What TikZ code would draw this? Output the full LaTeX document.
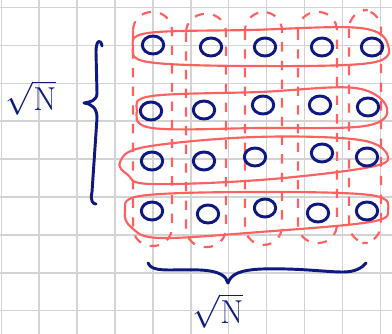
\documentclass[tikz,border=0pt]{standalone}
\usepackage{tikz}
\usetikzlibrary{shapes.geometric}
\definecolor{inkblue}{HTML}{0D1880}
\definecolor{inkred}{HTML}{FF6060}
\definecolor{gridgray}{HTML}{D3D3D3}
\begin{document}
\begin{tikzpicture}[x=0.75pt,y=-0.75pt,
  gridline/.style={gridgray,line width=1.1pt},
  dot/.style={draw=inkblue,ellipse,line width=2.2pt,minimum width=16pt,minimum height=13.5pt,inner sep=0pt},
  rowloop/.style={draw=inkred,line width=1.6pt},
  colloop/.style={draw=inkred,line width=1.6pt,dash pattern=on 7pt off 7pt,rounded corners=14pt},
  brace/.style={draw=inkblue,line width=2.2pt,line cap=round,line join=round},
  lbl/.style={text=inkblue,font=\fontsize{26}{30}\selectfont,inner sep=0pt}]
\useasboundingbox (0,0) rectangle (392,334);
\fill[white] (0,0) rectangle (392,334);
% grid
\foreach \i in {0,...,10} \draw[gridline] ({1.3+37.9*\i},0) -- ({1.3+37.9*\i},334);
\foreach \j in {0,...,8} \draw[gridline] (0,{7.5+37.9*\j}) -- (392,{7.5+37.9*\j});
% column loops (dashed)
\draw[colloop] (133,12) rectangle (172,246);
\draw[colloop] (186,14) rectangle (226,247);
\draw[colloop] (245,12) rectangle (282,245);
\draw[colloop] (298,12) rectangle (337,243);
\draw[colloop] (349,10) rectangle (381,243);
% row loops
\draw[rowloop] plot[smooth cycle,tension=0.6] coordinates {(133,47) (148,33) (250,30) (360,28) (388,45) (370,63) (250,66) (148,62)};
\draw[rowloop] plot[smooth cycle,tension=0.6] coordinates {(137,110) (152,96) (260,92) (355,88) (387,108) (365,126) (260,128) (152,128)};
\draw[rowloop] plot[smooth cycle,tension=0.6] coordinates {(120,162) (145,147) (255,137) (360,140) (388,157) (365,168) (260,180) (150,184) (128,175)};
\draw[rowloop] plot[smooth cycle,tension=0.6] coordinates {(125,212) (140,196) (250,192) (370,195) (388,210) (370,222) (260,232) (160,238) (132,228)};
% dots
\node[dot] (c11) at (153,45) {};
\node[dot] (c12) at (211,47) {};
\node[dot] (c13) at (265,47) {};
\node[dot] (c14) at (322,47) {};
\node[dot] (c15) at (372,47) {};
\node[dot] (c21) at (151,111) {};
\node[dot] (c22) at (204,110) {};
\node[dot] (c23) at (263,105) {};
\node[dot] (c24) at (320,105) {};
\node[dot] (c25) at (368,107) {};
\node[dot] (c31) at (152,161) {};
\node[dot] (c32) at (204,161) {};
\node[dot] (c33) at (255,157) {};
\node[dot] (c34) at (322,153) {};
\node[dot] (c35) at (367,157) {};
\node[dot] (c41) at (152,211) {};
\node[dot] (c42) at (208,214) {};
\node[dot] (c43) at (265,208) {};
\node[dot] (c44) at (318,213) {};
\node[dot] (c45) at (367,211) {};
% braces
\draw[brace] (102,46) .. controls (101,39) and (96,39) .. (96,52) -- (97,93) .. controls (97,101) and (90,102) .. (84,103) .. controls (92,104) and (97,108) .. (97,118) -- (92,192) .. controls (90,201) and (93,204) .. (96,204);
\draw[brace] (148,263) .. controls (152,273) and (170,269) .. (200,270) .. controls (220,271) and (226,276) .. (228,283) .. controls (231,274) and (240,270) .. (262,269) .. controls (300,268) and (325,272) .. (343,272) .. controls (355,272) and (362,268) .. (366,263);
% labels
\node[lbl] (lleft) at (31,98) {$\sqrt{\mathrm{N}}$};
\node[lbl] (lbottom) at (218,311) {$\sqrt{\mathrm{N}}$};
\end{tikzpicture}
\end{document}
